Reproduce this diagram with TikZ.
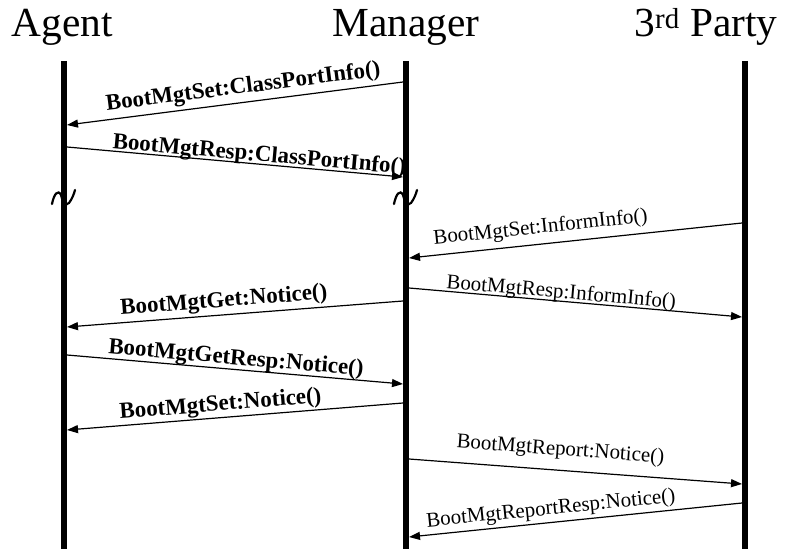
\documentclass[tikz,border=0pt]{standalone}
\usepackage{fontspec}
\setmainfont{Liberation Serif}
\usetikzlibrary{arrows.meta}
\begin{document}
\begin{tikzpicture}[x=1bp,y=-1bp,
  lifeline/.style={line width=6bp},
  msg/.style={line width=1.2bp,-{Triangle[length=11bp,width=8bp]}},
  title/.style={font=\fontsize{41.5}{45}\selectfont, anchor=base, inner sep=0pt},
  blab/.style={font=\bfseries\fontsize{23}{26}\selectfont, sloped, anchor=base, inner sep=0pt},
  nlab/.style={font=\fontsize{21}{25}\selectfont, sloped, anchor=base, inner sep=0pt},
  brk/.style={line width=2.2bp, line cap=round}]
\useasboundingbox (0,0) rectangle (785,549);
% titles
\node[title] (tA) at (62.5,37) {Agent};
\node[title] (tM) at (406,37) {Manager};
\node[title] (tP) at (706,37) {3\textsuperscript{rd} Party};
% lifelines
\coordinate (Atop) at (64,61);  \coordinate (Abot) at (64,549);
\coordinate (Mtop) at (406,61); \coordinate (Mbot) at (406,549);
\coordinate (Ptop) at (745,61); \coordinate (Pbot) at (745,549);
\draw[lifeline] (Atop) -- (Abot);
\draw[lifeline] (Mtop) -- (Mbot);
\draw[lifeline] (Ptop) -- (Pbot);
% break marks
\draw[brk] (52,204) .. controls (54,194) and (58,189) .. (61,195)
  .. controls (63,203) and (66,206) .. (69,203) .. controls (72,199) and (74,194) .. (75,190);
\draw[brk] (394,204) .. controls (396,194) and (400,189) .. (403,195)
  .. controls (405,203) and (408,206) .. (411,203) .. controls (414,199) and (416,194) .. (417,190);
% message end points
\coordinate (m1s) at (403,82);  \coordinate (m1e) at (67,125);
\coordinate (m2s) at (67,147);  \coordinate (m2e) at (403,177);
\coordinate (m3s) at (742,223); \coordinate (m3e) at (409,258);
\coordinate (m4s) at (409,288); \coordinate (m4e) at (742,317);
\coordinate (m5s) at (403,301); \coordinate (m5e) at (67,327);
\coordinate (m6s) at (67,355);  \coordinate (m6e) at (403,384);
\coordinate (m7s) at (403,403); \coordinate (m7e) at (67,430);
\coordinate (m8s) at (409,459); \coordinate (m8e) at (742,484);
\coordinate (m9s) at (742,503); \coordinate (m9e) at (409,537);
% messages
\draw[msg] (m1s) -- node[blab, pos=0.47, yshift=9bp] (l1) {BootMgtSet:ClassPortInfo()} (m1e);
\draw[msg] (m2s) -- node[blab, pos=0.57, yshift=3bp] (l2) {BootMgtResp:ClassPortInfo()} (m2e);
\draw[msg] (m3s) -- node[nlab, pos=0.60, yshift=11bp] (l3) {BootMgtSet:InformInfo()} (m3e);
\draw[msg] (m4s) -- node[nlab, pos=0.455, yshift=3bp] (l4) {BootMgtResp:InformInfo()} (m4e);
\draw[msg] (m5s) -- node[blab, pos=0.53, yshift=8bp] (l5) {BootMgtGet:Notice()} (m5e);
\draw[msg] (m6s) -- node[blab, pos=0.50, yshift=5bp] (l6) {BootMgtGetResp:Notice()} (m6e);
\draw[msg] (m7s) -- node[blab, pos=0.54, yshift=7bp] (l7) {BootMgtSet:Notice()} (m7e);
\draw[msg] (m8s) -- node[nlab, pos=0.45, yshift=15bp] (l8) {BootMgtReport:Notice()} (m8e);
\draw[msg] (m9s) -- node[nlab, pos=0.57, yshift=8bp] (l9) {BootMgtReportResp:Notice()} (m9e);
\end{tikzpicture}
\end{document}
